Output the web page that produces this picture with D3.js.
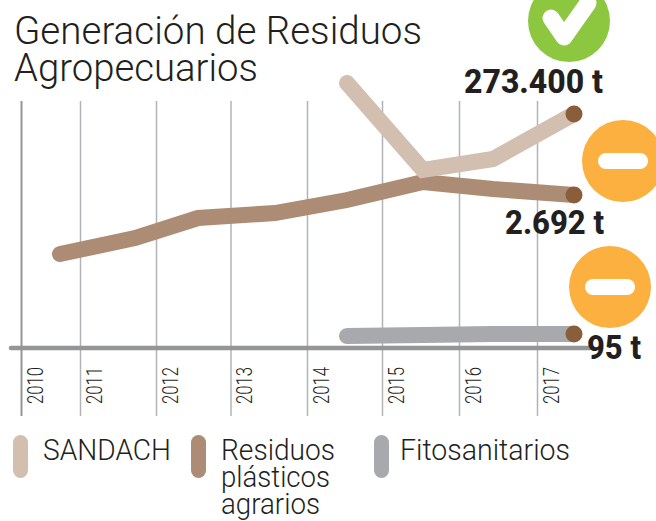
<!DOCTYPE html>
<html>
<head>
<meta charset="utf-8">
<style>
  html, body { margin: 0; padding: 0; background: #fff; }
  svg { display: block; }
  text { font-family: Roboto, "Open Sans", sans-serif; fill: #231f20; }
</style>
<script src="https://cdn.jsdelivr.net/npm/d3@7"></script>
</head>
<body>
<div class="result"></div>
<script>
const years = [2010, 2011, 2012, 2013, 2014, 2015, 2016, 2017];
const sandachYears = [2014, 2015, 2016, 2017];
const sandach = [309600, 208000, 220800, 273400];
const residuos = [1654, 1935, 2287, 2375, 2604, 2921, 2797, 2692];
const fitoYears = [2014, 2015, 2016, 2017];
const fito = [81, 88, 95, 95];
const titleLines = ['Generación de Residuos', 'Agropecuarios'];
const sandachLabel = '273.400 t';
const residuosLabel = '2.692 t';
const fitoLabel = '95 t';

const w = 656;
const h = 521;
const baseY = 348;

// The ticks are not evenly spaced in the original, the points sit between them
const gridX = d3.scaleLinear().domain(years).range([21, 80, 156, 230.5, 307, 382, 459, 537]);
const pointX = d3.scaleLinear().domain(years).range([60, 135, 198, 275, 347, 423, 493, 574]);

// Each series has its own vertical scale, they share only the baseline
const ySandach = d3.scaleLinear().domain([0, 273400]).range([baseY, 114]);
const yResiduos = d3.scaleLinear().domain([0, 2692]).range([baseY, 195]);
const yFito = d3.scaleLinear().domain([0, 95]).range([baseY, 334]);

const svg = d3.select('.result')
  .append('svg')
  .attr('width', w)
  .attr('height', h);

// Title
svg.selectAll('text.title')
  .data(titleLines)
  .enter()
  .append('text')
  .attr('class', 'title')
  .attr('x', 14)
  .attr('y', (d, i) => 44 + i * 37)
  .attr('font-size', 39)
  .attr('font-weight', 300)
  .attr('textLength', (d, i) => i === 0 ? 408 : 244)
  .attr('lengthAdjust', 'spacingAndGlyphs')
  .text(d => d);

// Year grid lines and labels
const axis = d3.axisBottom(gridX)
  .tickValues(years)
  .tickFormat(d3.format('d'))
  .tickSize(315)
  .tickSizeOuter(0);

const axisG = svg.append('g')
  .attr('transform', 'translate(0,101)')
  .call(axis);

axisG.select('.domain').remove();
axisG.selectAll('.tick line')
  .attr('stroke', (d, i) => i === 0 ? '#939598' : '#b1b3b6')
  .attr('stroke-width', (d, i) => i === 0 ? 2 : 1.5);
axisG.selectAll('.tick text')
  .attr('transform', 'translate(21,303) rotate(-90)')
  .attr('x', 0)
  .attr('y', 0)
  .attr('dy', 0)
  .attr('text-anchor', 'start')
  .attr('font-family', 'Roboto')
  .attr('font-size', 22)
  .attr('font-weight', 300)
  .attr('textLength', 37)
  .attr('lengthAdjust', 'spacingAndGlyphs');

svg.append('line')
  .attr('x1', 11)
  .attr('x2', 590)
  .attr('y1', baseY)
  .attr('y2', baseY)
  .attr('stroke', '#939598')
  .attr('stroke-width', 4.5)
  .attr('stroke-linecap', 'round');

// Lines
const series = [
  { color: '#a7a9ac', xs: fitoYears, ys: fito, y: yFito },
  { color: '#ad8c75', xs: years, ys: residuos, y: yResiduos },
  { color: '#d2bfb0', xs: sandachYears, ys: sandach, y: ySandach }
];

series.forEach(s => {
  const line = d3.line()
    .x(i => pointX(s.xs[i]))
    .y(i => s.y(s.ys[i]));

  svg.append('path')
    .attr('d', line(d3.range(s.xs.length)))
    .attr('fill', 'none')
    .attr('stroke', s.color)
    .attr('stroke-width', 16)
    .attr('stroke-linecap', 'round')
    .attr('stroke-linejoin', 'miter');
});

// End dots
svg.selectAll('circle.end')
  .data(series)
  .enter()
  .append('circle')
  .attr('class', 'end')
  .attr('cx', d => pointX(d.xs[d.xs.length - 1]))
  .attr('cy', d => d.y(d.ys[d.ys.length - 1]))
  .attr('r', 8.5)
  .attr('fill', '#8a5d3b');

// Value labels
const labels = [
  { text: sandachLabel, x: 603, y: 93, len: 139 },
  { text: residuosLabel, x: 604, y: 234, len: 99 },
  { text: fitoLabel, x: 641, y: 359, len: 54 }
];

svg.selectAll('text.value')
  .data(labels)
  .enter()
  .append('text')
  .attr('class', 'value')
  .attr('x', d => d.x - d.len)
  .attr('y', d => d.y)
  .attr('font-size', 34)
  .attr('font-weight', 800)
  .attr('textLength', d => d.len)
  .attr('lengthAdjust', 'spacingAndGlyphs')
  .text(d => d.text);

// Status icons
const icon = svg.append('g');
icon.append('circle')
  .attr('cx', 569).attr('cy', 21).attr('r', 41)
  .attr('fill', '#8dc63f');
icon.append('path')
  .attr('d', 'M551,18L564,37L588,3')
  .attr('fill', 'none')
  .attr('stroke', '#fff')
  .attr('stroke-width', 17)
  .attr('stroke-linecap', 'round')
  .attr('stroke-linejoin', 'round');

const minus = [[623, 161], [610, 287]];
minus.forEach(c => {
  icon.append('circle')
    .attr('cx', c[0]).attr('cy', c[1]).attr('r', 41)
    .attr('fill', '#fbb040');
  icon.append('rect')
    .attr('x', c[0] - 25).attr('y', c[1] - 8)
    .attr('width', 50).attr('height', 16)
    .attr('rx', 8)
    .attr('fill', '#fff');
});

// Legend
const legend = [
  { color: '#d2bfb0', x: 13, lines: ['SANDACH'], lens: [128] },
  { color: '#ad8c75', x: 191, lines: ['Residuos', 'plásticos', 'agrarios'], lens: [114, 109, 99] },
  { color: '#a7a9ac', x: 374, lines: ['Fitosanitarios'], lens: [170] }
];

const items = svg.selectAll('g.legend')
  .data(legend)
  .enter()
  .append('g')
  .attr('class', 'legend')
  .attr('transform', d => 'translate(' + d.x + ',435)');

items.append('rect')
  .attr('width', 15)
  .attr('height', 43)
  .attr('rx', 7.5)
  .attr('fill', d => d.color);

items.each(function (d) {
  d3.select(this).selectAll('text')
    .data(d.lines)
    .enter()
    .append('text')
    .attr('x', d.x === 374 ? 26 : 30)
    .attr('y', (t, i) => 25 + i * 27)
    .attr('font-size', 29)
    .attr('font-weight', 300)
    .attr('textLength', (t, i) => d.lens[i])
    .attr('lengthAdjust', 'spacingAndGlyphs')
    .text(t => t);
});
</script>
</body>
</html>
